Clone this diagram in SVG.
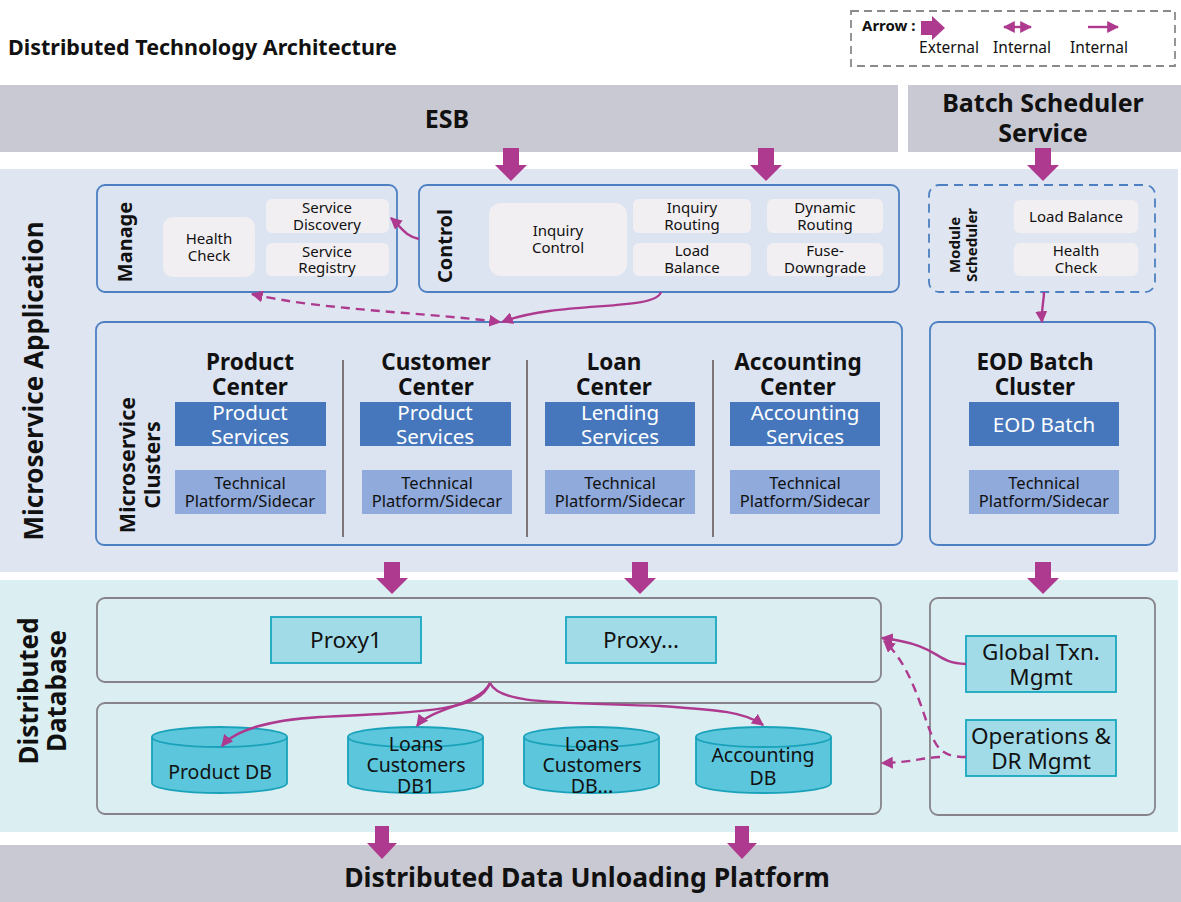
<svg xmlns="http://www.w3.org/2000/svg" width="1181" height="902" viewBox="0 0 1181 902">
<defs>
<style>
text{font-family:"Noto Sans","Open Sans","Liberation Sans",sans-serif;fill:#111;}
.b{font-weight:bold;}
.c{text-anchor:middle;}
.bar{fill:#c9c9d3;}
.grp{fill:#dde4f1;stroke:#4d80c2;stroke-width:1.8;}
.lt{fill:#f1eff1;}
.svc{fill:#4677bd;}
.tech{fill:#8faadb;}
.wt{fill:#fff;}
.sep{stroke:#7d7578;stroke-width:2;}
.dbc{fill:#dbeff2;stroke:#86838a;stroke-width:1.8;}
.prx{fill:#a2dbe8;stroke:#19a7bf;stroke-width:1.8;}
.cyl{fill:#5cc6dc;stroke:#19a2ba;stroke-width:1.8;}
.ext{fill:#ad3a8f;}
.ln{fill:none;stroke:#ad3a8f;stroke-width:2.4;}
.dash{stroke-dasharray:9 6;}
.s15{font-size:15px;}
.ttl{font-size:22.5px;font-weight:bold;text-anchor:middle;}
.sv{font-size:20.5px;text-anchor:middle;fill:#fff;}
.tp{font-size:16.5px;text-anchor:middle;}
.db{font-size:19.5px;text-anchor:middle;}
.px{font-size:22.5px;text-anchor:middle;}
</style>
<marker id="ah" viewBox="0 0 10 10" refX="9" refY="5" markerWidth="12" markerHeight="12" markerUnits="userSpaceOnUse" orient="auto-start-reverse">
<path d="M0,0 L10,5 L0,10 z" fill="#ad3a8f"/>
</marker>
</defs>

<!-- Title and legend -->
<text class="b" x="8" y="55" font-size="21.5">Distributed Technology Architecture</text>
<g id="legend">
<rect x="851" y="11" width="324" height="55" fill="none" stroke="#8a8a8a" stroke-width="1.8" stroke-dasharray="8 5"/>
<text class="b" x="862" y="31" font-size="15">Arrow :</text>
<polygon class="ext" points="921,21 932,21 932,16 945,28 932,40 932,35 921,35"/>
<text class="c" x="949" y="53" font-size="15.5">External</text>
<line class="ln" x1="1004" y1="27" x2="1031" y2="27" marker-start="url(#ah)" marker-end="url(#ah)"/>
<text class="c" x="1022" y="53" font-size="15.5">Internal</text>
<line class="ln" x1="1088" y1="27" x2="1118" y2="27" marker-end="url(#ah)"/>
<text class="c" x="1099" y="53" font-size="15.5">Internal</text>
</g>

<!-- Top bars -->
<g id="esb">
<rect class="bar" x="0" y="85" width="898" height="67"/>
<text class="b c" x="447" y="128" font-size="25">ESB</text>
</g>
<g id="batch-scheduler">
<rect class="bar" x="908" y="85" width="273" height="67"/>
<text class="b c" font-size="25"><tspan x="1043" y="112">Batch Scheduler</tspan><tspan x="1043" dy="30">Service</tspan></text>
</g>

<!-- Bands -->
<rect x="0" y="169" width="1178" height="403" fill="#dfe5f1"/>
<rect x="0" y="580" width="1178" height="252" fill="#dbeff2"/>
<text class="b c" transform="translate(34,381) rotate(-90)" y="9" font-size="26">Microservice Application</text>
<text class="b c" transform="translate(29,691) rotate(-90)" font-size="26"><tspan x="0" y="9">Distributed</tspan><tspan x="0" dy="28">Database</tspan></text>

<!-- Manage -->
<g id="manage">
<rect class="grp" x="97" y="185" width="300" height="107" rx="8"/>
<text class="b c" transform="translate(125,242) rotate(-90)" y="7" font-size="20">Manage</text>
<rect class="lt" x="163" y="217" width="92" height="60" rx="10"/>
<text class="c s15"><tspan x="209" y="244">Health</tspan><tspan x="209" dy="17">Check</tspan></text>
<rect class="lt" x="266" y="199" width="123" height="34" rx="6"/>
<text class="c s15"><tspan x="327" y="213">Service</tspan><tspan x="327" dy="17">Discovery</tspan></text>
<rect class="lt" x="266" y="243" width="123" height="33" rx="6"/>
<text class="c s15"><tspan x="327" y="257">Service</tspan><tspan x="327" dy="16">Registry</tspan></text>
</g>

<!-- Control -->
<g id="control">
<rect class="grp" x="419" y="185" width="480" height="107" rx="8"/>
<text class="b c" transform="translate(445,246) rotate(-90)" y="7" font-size="20">Control</text>
<rect class="lt" x="489" y="203" width="138" height="73" rx="12"/>
<text class="c s15"><tspan x="558" y="236">Inquiry</tspan><tspan x="558" dy="17">Control</tspan></text>
<rect class="lt" x="633" y="199" width="118" height="34" rx="6"/>
<text class="c s15"><tspan x="692" y="213">Inquiry</tspan><tspan x="692" dy="17">Routing</tspan></text>
<rect class="lt" x="633" y="243" width="118" height="33" rx="6"/>
<text class="c s15"><tspan x="692" y="256">Load</tspan><tspan x="692" dy="17">Balance</tspan></text>
<rect class="lt" x="767" y="199" width="116" height="34" rx="6"/>
<text class="c s15"><tspan x="825" y="213">Dynamic</tspan><tspan x="825" dy="17">Routing</tspan></text>
<rect class="lt" x="767" y="243" width="116" height="33" rx="6"/>
<text class="c s15"><tspan x="825" y="256">Fuse-</tspan><tspan x="825" dy="17">Downgrade</tspan></text>
</g>

<!-- Module Scheduler -->
<g id="module-scheduler">
<rect x="929" y="185" width="226" height="107" rx="10" fill="none" stroke="#4d80c2" stroke-width="1.8" stroke-dasharray="9 6"/>
<text class="b c" transform="translate(955,245) rotate(-90)" font-size="15"><tspan x="0" y="5">Module</tspan><tspan x="0" dy="17">Scheduler</tspan></text>
<rect class="lt" x="1014" y="200" width="124" height="33" rx="6"/>
<text class="c s15" x="1076" y="222">Load Balance</text>
<rect class="lt" x="1014" y="243" width="124" height="33" rx="6"/>
<text class="c s15"><tspan x="1076" y="256">Health</tspan><tspan x="1076" dy="17">Check</tspan></text>
</g>

<!-- Microservice Clusters -->
<g id="microservice-clusters">
<rect class="grp" x="96" y="322" width="806" height="223" rx="8"/>
<text class="b c" transform="translate(127,465) rotate(-90)" font-size="21.5"><tspan x="0" y="7.5">Microservice</tspan><tspan x="0" dy="25">Clusters</tspan></text>
<line class="sep" x1="343" y1="360" x2="343" y2="537"/>
<line class="sep" x1="527" y1="360" x2="527" y2="537"/>
<line class="sep" x1="713" y1="360" x2="713" y2="537"/>
</g>
<g id="product-center">
<text class="ttl"><tspan x="250" y="370">Product</tspan><tspan x="250" dy="25">Center</tspan></text>
<rect class="svc" x="175" y="402" width="151" height="44"/>
<text class="sv"><tspan x="250" y="420">Product</tspan><tspan x="250" dy="24">Services</tspan></text>
<rect class="tech" x="175" y="470" width="151" height="44"/>
<text class="tp"><tspan x="250" y="489">Technical</tspan><tspan x="250" dy="18">Platform/Sidecar</tspan></text>
</g>
<g id="customer-center">
<text class="ttl"><tspan x="436" y="370">Customer</tspan><tspan x="436" dy="25">Center</tspan></text>
<rect class="svc" x="360" y="402" width="151" height="44"/>
<text class="sv"><tspan x="435" y="420">Product</tspan><tspan x="435" dy="24">Services</tspan></text>
<rect class="tech" x="362" y="470" width="150" height="44"/>
<text class="tp"><tspan x="437" y="489">Technical</tspan><tspan x="437" dy="18">Platform/Sidecar</tspan></text>
</g>
<g id="loan-center">
<text class="ttl"><tspan x="614" y="370">Loan</tspan><tspan x="614" dy="25">Center</tspan></text>
<rect class="svc" x="545" y="402" width="150" height="44"/>
<text class="sv"><tspan x="620" y="420">Lending</tspan><tspan x="620" dy="24">Services</tspan></text>
<rect class="tech" x="545" y="470" width="150" height="44"/>
<text class="tp"><tspan x="620" y="489">Technical</tspan><tspan x="620" dy="18">Platform/Sidecar</tspan></text>
</g>
<g id="accounting-center">
<text class="ttl"><tspan x="798" y="370">Accounting</tspan><tspan x="798" dy="25">Center</tspan></text>
<rect class="svc" x="730" y="402" width="150" height="44"/>
<text class="sv"><tspan x="805" y="420">Accounting</tspan><tspan x="805" dy="24">Services</tspan></text>
<rect class="tech" x="730" y="470" width="150" height="44"/>
<text class="tp"><tspan x="805" y="489">Technical</tspan><tspan x="805" dy="18">Platform/Sidecar</tspan></text>
</g>
<g id="eod-batch-cluster">
<rect class="grp" x="930" y="322" width="225" height="223" rx="8"/>
<text class="ttl"><tspan x="1035" y="370">EOD Batch</tspan><tspan x="1035" dy="25">Cluster</tspan></text>
<rect class="svc" x="969" y="402" width="150" height="44"/>
<text class="sv" x="1044" y="432" font-size="21.5">EOD Batch</text>
<rect class="tech" x="969" y="470" width="150" height="44"/>
<text class="tp"><tspan x="1044" y="489">Technical</tspan><tspan x="1044" dy="18">Platform/Sidecar</tspan></text>
</g>

<!-- Database -->
<g id="proxy-layer">
<rect class="dbc" x="97" y="598" width="784" height="84" rx="8"/>
<rect class="prx" x="271" y="617" width="150" height="46"/>
<text class="px" x="346" y="648">Proxy1</text>
<rect class="prx" x="566" y="617" width="150" height="46"/>
<text class="px" x="641" y="648">Proxy...</text>
</g>
<g id="db-layer">
<rect class="dbc" x="97" y="703" width="784" height="111" rx="8"/>
</g>
<g id="product-db">
<path class="cyl" d="M152,737 A67.5,10 0 0 1 287,737 V783 A67.5,10 0 0 1 152,783 Z"/>
<path d="M152,737 A67.5,10 0 0 0 287,737" fill="none" stroke="#19a2ba" stroke-width="1.8"/>
<text class="db" x="220" y="779">Product DB</text>
</g>
<g id="loans-db1">
<path class="cyl" d="M348,737 A67.5,10 0 0 1 483,737 V783 A67.5,10 0 0 1 348,783 Z"/>
<path d="M348,737 A67.5,10 0 0 0 483,737" fill="none" stroke="#19a2ba" stroke-width="1.8"/>
<text class="db"><tspan x="416" y="751">Loans</tspan><tspan x="416" dy="21">Customers</tspan><tspan x="416" dy="21">DB1</tspan></text>
</g>
<g id="loans-db-n">
<path class="cyl" d="M524,737 A67.5,10 0 0 1 659,737 V783 A67.5,10 0 0 1 524,783 Z"/>
<path d="M524,737 A67.5,10 0 0 0 659,737" fill="none" stroke="#19a2ba" stroke-width="1.8"/>
<text class="db"><tspan x="592" y="751">Loans</tspan><tspan x="592" dy="21">Customers</tspan><tspan x="592" dy="21">DB...</tspan></text>
</g>
<g id="accounting-db">
<path class="cyl" d="M696,737 A67.5,10 0 0 1 831,737 V783 A67.5,10 0 0 1 696,783 Z"/>
<path d="M696,737 A67.5,10 0 0 0 831,737" fill="none" stroke="#19a2ba" stroke-width="1.8"/>
<text class="db"><tspan x="763" y="762">Accounting</tspan><tspan x="763" dy="23">DB</tspan></text>
</g>
<g id="db-management">
<rect class="dbc" x="930" y="598" width="225" height="217" rx="8"/>
<rect class="prx" x="966" y="636" width="150" height="56"/>
<text class="px"><tspan x="1041" y="660">Global Txn.</tspan><tspan x="1041" dy="25">Mgmt</tspan></text>
<rect class="prx" x="966" y="720" width="150" height="56"/>
<text class="px"><tspan x="1041" y="744">Operations &amp;</tspan><tspan x="1041" dy="25">DR Mgmt</tspan></text>
</g>

<!-- Bottom bar -->
<g id="unloading-platform">
<rect class="bar" x="0" y="845" width="1181" height="57"/>
<text class="b c" x="587" y="887" font-size="26.5">Distributed Data Unloading Platform</text>
</g>

<!-- Connectors -->
<g id="connectors">
<polygon class="ext" points="503,148 519,148 519,165 527,165 511,181 495,165 503,165"/>
<polygon class="ext" points="758,148 774,148 774,165 782,165 766,181 750,165 758,165"/>
<polygon class="ext" points="1035,148 1051,148 1051,165 1059,165 1043,181 1027,165 1035,165"/>
<polygon class="ext" points="384,562 400,562 400,578 408,578 392,594 376,578 384,578"/>
<polygon class="ext" points="632,562 648,562 648,578 656,578 640,594 624,578 632,578"/>
<polygon class="ext" points="1035,562 1051,562 1051,578 1059,578 1043,594 1027,578 1035,578"/>
<polygon class="ext" points="375,826 389,826 389,843 397,843 382,859 367,843 375,843"/>
<polygon class="ext" points="735,826 749,826 749,843 757,843 742,859 727,843 735,843"/>
<path class="ln" d="M419,239 C405,236 402,228 391,218" marker-end="url(#ah)"/>
<path class="ln dash" d="M252,294 C320,310 420,312 500,322" marker-start="url(#ah)" marker-end="url(#ah)"/>
<path class="ln" d="M661,292 C655,312 560,300 502,322" marker-end="url(#ah)"/>
<path class="ln" d="M1044,292 C1044,302 1041,308 1042,322" marker-end="url(#ah)"/>
<path class="ln" d="M490,683 C480,710 430,712 320,717 C270,720 235,730 222,746" marker-end="url(#ah)"/>
<path class="ln" d="M490,683 C480,705 430,708 417,726" marker-end="url(#ah)"/>
<path class="ln" d="M490,683 C500,705 560,702 660,706 C720,710 745,712 763,725" marker-end="url(#ah)"/>
<path class="ln" d="M966,664 C930,662 945,646 882,638" marker-end="url(#ah)"/>
<path class="ln dash" d="M966,757 C938,757 935,745 926,720 C916,690 905,660 884,641" marker-end="url(#ah)"/>
<path class="ln dash" d="M940,757 C920,758 915,762 882,763" marker-end="url(#ah)"/>
</g>
</svg>
